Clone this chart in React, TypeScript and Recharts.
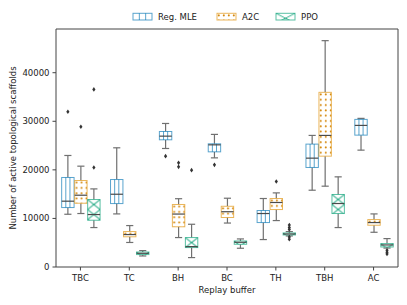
import React from 'react';
import { ComposedChart, Bar, XAxis, YAxis, Legend } from 'recharts';

const categories = ['TBC', 'TC', 'BH', 'BC', 'TH', 'TBH', 'AC'];

const mleLow = [10860, 10930, 24400, 22470, 5650, 15810, 24060];
const mleQ1 = [12240, 13060, 26190, 23710, 9150, 20490, 27150];
const mleMed = [13550, 14980, 26940, 25150, 11010, 22410, 29150];
const mleQ3 = [18430, 18010, 27900, 25360, 11630, 25300, 30390];
const mleHigh = [22960, 24540, 29550, 27300, 14100, 27090, 30600];
const mleOut = [[31960], [], [22820], [21030], [], [], []];

const a2cLow = [11010, 5050, 6060, 9050, 9560, 16640, 7150];
const a2cQ1 = [13130, 6220, 8280, 10190, 11830, 22820, 8600];
const a2cMed = [14780, 6680, 10900, 11380, 13280, 27090, 9150];
const a2cQ3 = [17810, 7300, 12870, 12500, 14100, 35960, 9770];
const a2cHigh = [20760, 8530, 14060, 14160, 15260, 46600, 10930];
const a2cOut = [[28870], [], [21440, 20620], [], [17600], [], []];

const ppoLow = [8120, 2270, 1940, 3860, 6390, 8120, 3900];
const ppoQ1 = [9630, 2560, 4000, 4680, 6600, 11010, 4120];
const ppoMed = [10800, 2820, 4200, 5090, 6800, 13070, 4540];
const ppoQ3 = [13890, 3090, 6060, 5360, 7010, 14930, 4820];
const ppoHigh = [16080, 3380, 8800, 5780, 7290, 18560, 5850];
const ppoOut = [[36560, 20480], [], [19940], [], [8660, 8120, 7710, 6190, 5710], [], [3440, 3030, 2700]];

const yTicks = [0, 10000, 20000, 30000, 40000];

const seriesInfo = [
  { key: 'mle', label: 'Reg. MLE', color: '#0173b2', low: mleLow, q1: mleQ1, med: mleMed, q3: mleQ3, high: mleHigh, out: mleOut },
  { key: 'a2c', label: 'A2C', color: '#de8f05', low: a2cLow, q1: a2cQ1, med: a2cMed, q3: a2cQ3, high: a2cHigh, out: a2cOut },
  { key: 'ppo', label: 'PPO', color: '#029e73', low: ppoLow, q1: ppoQ1, med: ppoMed, q3: ppoQ3, high: ppoHigh, out: ppoOut },
];

const chartData = categories.map((cat, i) => ({
  cat,
  mle: [mleLow[i], mleHigh[i]],
  a2c: [a2cLow[i], a2cHigh[i]],
  ppo: [ppoLow[i], ppoHigh[i]],
}));

const FONT = '"DejaVu Sans", sans-serif';
const EDGE_OP = 0.65;

function Hatch({ kind, color, x, y, w, h, id }: any) {
  if (kind === 'mle') {
    return (
      <g stroke={color} strokeOpacity={EDGE_OP} strokeWidth={1}>
        <line x1={x + w / 3} x2={x + w / 3} y1={y} y2={y + h} />
        <line x1={x + (2 * w) / 3} x2={x + (2 * w) / 3} y1={y} y2={y + h} />
      </g>
    );
  }
  if (kind === 'a2c') {
    return (
      <g>
        <defs>
          <pattern id={id} patternUnits="userSpaceOnUse" x={x} y={y} width={5} height={5.3}>
            <circle cx={1.8} cy={2.2} r={1} fill="#d4870a" />
          </pattern>
        </defs>
        <rect x={x} y={y} width={w} height={h} fill={`url(#${id})`} />
      </g>
    );
  }
  const ph = 10;
  return (
    <g>
      <defs>
        <pattern id={id} patternUnits="userSpaceOnUse" x={x} y={y} width={w} height={ph}>
          <line x1={0} y1={0} x2={w} y2={ph} stroke={color} strokeOpacity={0.8} strokeWidth={1} />
          <line x1={0} y1={ph} x2={w} y2={0} stroke={color} strokeOpacity={0.8} strokeWidth={1} />
        </pattern>
      </defs>
      <rect x={x} y={y} width={w} height={h} fill={`url(#${id})`} />
    </g>
  );
}

const makeShape = (s: any) => (props: any) => {
  const { x, y, width, height, payload } = props;
  const i = categories.indexOf(payload.cat);
  if (i < 0) return null;
  const lo = s.low[i];
  const hi = s.high[i];
  const top = Math.min(y, y + height);
  const hh = Math.abs(height);
  const py = (v: number) => top + ((hi - v) / (hi - lo)) * hh;
  const inset = 0.3;
  const bx = x + inset;
  const bw = width - 2 * inset;
  const cx = x + width / 2;
  const capW = width * 0.55;
  const yQ3 = py(s.q3[i]);
  const yQ1 = py(s.q1[i]);
  const yMed = py(s.med[i]);
  const yHi = py(hi);
  const yLo = py(lo);
  const wc = '#707070';
  return (
    <g>
      <g stroke={wc} strokeWidth={1.2}>
        <line x1={cx} x2={cx} y1={yHi} y2={yQ3} />
        <line x1={cx} x2={cx} y1={yQ1} y2={yLo} />
        <line x1={cx - capW / 2} x2={cx + capW / 2} y1={yHi} y2={yHi} />
        <line x1={cx - capW / 2} x2={cx + capW / 2} y1={yLo} y2={yLo} />
      </g>
      <rect x={bx} y={yQ3} width={bw} height={yQ1 - yQ3} fill="#ffffff" />
      <Hatch kind={s.key} color={s.color} x={bx} y={yQ3} w={bw} h={yQ1 - yQ3} id={`hatch-${s.key}-${i}`} />
      <rect x={bx} y={yQ3} width={bw} height={yQ1 - yQ3} fill="none" stroke={s.color} strokeOpacity={EDGE_OP} strokeWidth={1} />
      <line x1={bx} x2={bx + bw} y1={yMed} y2={yMed} stroke="#4a4a4a" strokeWidth={1.2} />
      {s.out[i].map((v: number, k: number) => {
        const oy = py(v);
        return (
          <polygon
            key={k}
            points={`${cx},${oy - 2.3} ${cx + 1.6},${oy} ${cx},${oy + 2.3} ${cx - 1.6},${oy}`}
            fill="#333333"
          />
        );
      })}
    </g>
  );
};

const renderLegend = () => {
  let px = 133;
  const items = seriesInfo.map((s) => {
    const item = { s, px };
    px += 25 + s.label.length * 5 + 19;
    return item;
  });
  return (
    <svg width={407} height={29} style={{ display: 'block' }}>
      {items.map(({ s, px: ix }) => (
        <g key={s.key}>
          <rect x={ix} y={13.3} width={19} height={6.7} fill="#fff" />
          <Hatch kind={s.key} color={s.color} x={ix} y={13.3} w={19} h={6.7} id={`leg-${s.key}`} />
          <rect x={ix} y={13.3} width={19} height={6.7} fill="none" stroke={s.color} strokeOpacity={EDGE_OP} strokeWidth={1} />
          <text x={ix + 25} y={19.6} fontSize={8.5} fontFamily={FONT} fill="#222">
            {s.label}
          </text>
        </g>
      ))}
    </svg>
  );
};

const YLabel = (props: any) => {
  const vb = props.viewBox || { x: 0, y: 29, width: 56, height: 238 };
  const cx = vb.x + 12.7;
  const cy = vb.y + vb.height / 2;
  return (
    <text x={cx} y={cy} transform={`rotate(-90, ${cx}, ${cy})`} textAnchor="middle" dominantBaseline="central" fontSize={8.5} fontFamily={FONT} fill="#222">
      Number of active topological scaffolds
    </text>
  );
};

const XLabel = (props: any) => {
  const vb = props.viewBox || { x: 56, y: 267, width: 342, height: 38 };
  const cx = vb.x + vb.width / 2;
  return (
    <text x={cx} y={vb.y + 26} textAnchor="middle" fontSize={8.5} fontFamily={FONT} fill="#222">
      Replay buffer
    </text>
  );
};

export default function App() {
  return (
    <div style={{ position: 'absolute', left: 0, top: 0, width: 407, height: 305, background: '#fff' }}>
      <ComposedChart
        width={407}
        height={305}
        data={chartData}
        margin={{ top: 0, right: 8, left: 0, bottom: 0 }}
        barCategoryGap="11%"
        barGap={0}
      >
        <Legend verticalAlign="top" align="center" height={28} content={renderLegend} wrapperStyle={{ top: 0, left: 0, width: 407, height: 28 }} />
        <XAxis
          dataKey="cat"
          interval={0}
          height={38}
          tickSize={3.5}
          tickMargin={4}
          axisLine={{ stroke: '#444' }}
          tickLine={{ stroke: '#444' }}
          tick={{ fontSize: 8.5, fontFamily: FONT, fill: '#222' }}
          label={<XLabel />}
        />
        <XAxis xAxisId="top" dataKey="cat" orientation="top" height={1} tick={false} tickLine={false} axisLine={{ stroke: '#444' }} />
        <YAxis
          domain={[0, 49000]}
          ticks={yTicks}
          width={56}
          tickSize={3.5}
          tickMargin={3}
          allowDataOverflow
          axisLine={{ stroke: '#444' }}
          tickLine={{ stroke: '#444' }}
          tick={{ fontSize: 8.5, fontFamily: FONT, fill: '#222' }}
          label={<YLabel />}
        />
        <YAxis yAxisId="right" orientation="right" domain={[0, 49000]} width={1} tick={false} tickLine={false} axisLine={{ stroke: '#444' }} />
        {seriesInfo.map((s) => (
          <Bar key={s.key} dataKey={s.key} name={s.label} fill={s.color} isAnimationActive={false} shape={makeShape(s)} />
        ))}
      </ComposedChart>
    </div>
  );
}
